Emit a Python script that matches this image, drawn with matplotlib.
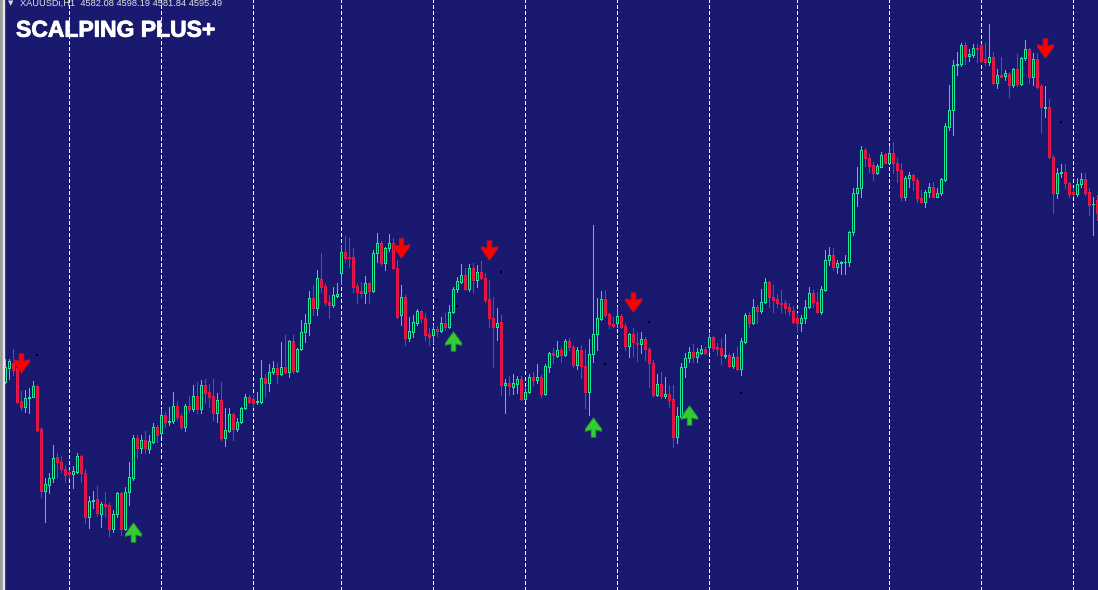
import numpy as np
import matplotlib
matplotlib.use('Agg')
import matplotlib.pyplot as plt
import matplotlib.patheffects as pe
from matplotlib.path import Path

# XAUUSDi H1 bars (open, high, low, close)
opens = [4423, 4437, 4442, 4437, 4404, 4398, 4407, 4408, 4419, 4376,
         4314, 4320, 4327, 4348, 4343, 4336, 4333, 4331, 4333, 4349,
         4332, 4288, 4304, 4306, 4291, 4301, 4300, 4276, 4291, 4312,
         4276, 4313, 4327, 4367, 4357, 4365, 4356, 4363, 4378, 4372,
         4390, 4383, 4384, 4399, 4389, 4378, 4399, 4396, 4409, 4396,
         4420, 4413, 4409, 4392, 4405, 4367, 4374, 4391, 4376, 4383,
         4397, 4408, 4406, 4403, 4403, 4427, 4422, 4433, 4437, 4431,
         4438, 4433, 4464, 4434, 4456, 4473, 4482, 4507, 4497, 4526,
         4519, 4503, 4500, 4509, 4532, 4553, 4548, 4548, 4519, 4514,
         4512, 4522, 4514, 4552, 4562, 4542, 4557, 4562, 4537, 4490,
         4508, 4467, 4473, 4482, 4494, 4487, 4471, 4470, 4476, 4474,
         4482, 4478, 4493, 4516, 4523, 4530, 4516, 4537, 4525, 4533,
         4527, 4506, 4487, 4478, 4483, 4420, 4422, 4418, 4421, 4426,
         4406, 4413, 4428, 4425, 4428, 4411, 4438, 4452, 4449, 4455,
         4450, 4464, 4458, 4440, 4455, 4439, 4413, 4451, 4471, 4486,
         4506, 4491, 4481, 4482, 4489, 4479, 4459, 4471, 4462, 4461,
         4466, 4456, 4442, 4410, 4421, 4409, 4411, 4406, 4368, 4388,
         4438, 4447, 4453, 4448, 4452, 4456, 4458, 4468, 4458, 4457,
         4449, 4450, 4439, 4448, 4436, 4463, 4490, 4482, 4498, 4494,
         4503, 4523, 4508, 4506, 4502, 4502, 4498, 4494, 4487, 4482,
         4487, 4498, 4512, 4503, 4493, 4515, 4545, 4550, 4538, 4542,
         4543, 4543, 4573, 4612, 4617, 4655, 4647, 4640, 4632, 4638,
         4651, 4642, 4652, 4642, 4635, 4608, 4627, 4630, 4625, 4607,
         4603, 4613, 4618, 4608, 4612, 4625, 4678, 4695, 4740, 4741,
         4760, 4749, 4750, 4757, 4760, 4746, 4743, 4748, 4722, 4730,
         4729, 4731, 4720, 4736, 4721, 4747, 4756, 4728, 4746, 4719,
         4697, 4698, 4648, 4612, 4632, 4633, 4622, 4613, 4611, 4621,
         4626, 4613, 4601, 4605]

highs = [4446, 4446, 4456, 4439, 4414, 4415, 4417, 4424, 4420, 4378,
         4327, 4332, 4360, 4352, 4349, 4340, 4335, 4339, 4352, 4350,
         4336, 4309, 4314, 4319, 4303, 4313, 4302, 4295, 4313, 4313,
         4318, 4343, 4370, 4370, 4370, 4374, 4370, 4382, 4380, 4396,
         4393, 4398, 4413, 4404, 4391, 4401, 4409, 4420, 4423, 4425,
         4426, 4421, 4426, 4412, 4423, 4397, 4397, 4392, 4387, 4398,
         4411, 4410, 4410, 4413, 4445, 4431, 4441, 4444, 4442, 4463,
         4470, 4465, 4470, 4457, 4485, 4491, 4514, 4520, 4535, 4552,
         4522, 4510, 4518, 4522, 4560, 4569, 4567, 4557, 4522, 4523,
         4529, 4523, 4555, 4572, 4564, 4558, 4571, 4567, 4545, 4520,
         4510, 4488, 4490, 4496, 4495, 4492, 4477, 4480, 4479, 4488,
         4492, 4500, 4518, 4528, 4541, 4537, 4541, 4542, 4540, 4544,
         4532, 4525, 4508, 4497, 4490, 4426, 4429, 4431, 4429, 4429,
         4417, 4431, 4433, 4441, 4430, 4441, 4453, 4457, 4464, 4458,
         4466, 4467, 4460, 4458, 4460, 4456, 4466, 4580, 4507, 4514,
         4515, 4492, 4488, 4498, 4491, 4482, 4472, 4477, 4473, 4473,
         4468, 4458, 4445, 4431, 4433, 4428, 4420, 4420, 4398, 4442,
         4452, 4458, 4461, 4457, 4460, 4458, 4471, 4469, 4462, 4467,
         4471, 4452, 4452, 4458, 4467, 4492, 4493, 4506, 4500, 4516,
         4527, 4524, 4520, 4511, 4515, 4505, 4502, 4499, 4492, 4490,
         4505, 4518, 4515, 4513, 4519, 4555, 4558, 4557, 4545, 4544,
         4550, 4574, 4617, 4638, 4659, 4657, 4651, 4643, 4641, 4653,
         4652, 4659, 4663, 4647, 4642, 4629, 4633, 4631, 4627, 4615,
         4615, 4622, 4623, 4617, 4627, 4682, 4720, 4745, 4753, 4762,
         4763, 4756, 4761, 4761, 4761, 4762, 4781, 4753, 4736, 4748,
         4735, 4733, 4737, 4751, 4748, 4765, 4757, 4752, 4752, 4721,
         4719, 4706, 4650, 4637, 4641, 4641, 4623, 4617, 4627, 4632,
         4632, 4617, 4608, 4610]

lows = [4422, 4426, 4430, 4402, 4395, 4393, 4392, 4408, 4374, 4308,
        4283, 4312, 4323, 4328, 4333, 4323, 4327, 4317, 4332, 4323,
        4282, 4277, 4297, 4289, 4278, 4288, 4269, 4273, 4288, 4270,
        4275, 4300, 4325, 4347, 4352, 4352, 4352, 4362, 4363, 4369,
        4378, 4380, 4382, 4385, 4376, 4374, 4393, 4394, 4392, 4392,
        4402, 4398, 4385, 4383, 4365, 4359, 4373, 4365, 4374, 4382,
        4396, 4402, 4398, 4401, 4402, 4408, 4414, 4431, 4422, 4430,
        4432, 4428, 4432, 4433, 4455, 4463, 4470, 4490, 4490, 4513,
        4500, 4487, 4498, 4508, 4521, 4543, 4538, 4513, 4502, 4508,
        4502, 4502, 4513, 4543, 4540, 4535, 4554, 4536, 4487, 4480,
        4460, 4464, 4468, 4480, 4483, 4465, 4460, 4462, 4469, 4473,
        4475, 4477, 4492, 4513, 4522, 4515, 4514, 4512, 4518, 4526,
        4503, 4478, 4438, 4465, 4410, 4392, 4410, 4411, 4412, 4405,
        4405, 4412, 4420, 4422, 4408, 4410, 4433, 4442, 4448, 4443,
        4449, 4455, 4438, 4436, 4427, 4397, 4390, 4443, 4455, 4485,
        4488, 4477, 4478, 4478, 4477, 4455, 4448, 4449, 4444, 4452,
        4445, 4418, 4409, 4409, 4407, 4407, 4398, 4358, 4362, 4387,
        4428, 4443, 4443, 4443, 4451, 4451, 4453, 4454, 4450, 4441,
        4447, 4438, 4437, 4435, 4430, 4462, 4478, 4481, 4482, 4492,
        4502, 4498, 4493, 4498, 4493, 4492, 4490, 4482, 4473, 4474,
        4482, 4497, 4498, 4492, 4491, 4514, 4540, 4535, 4532, 4531,
        4531, 4539, 4570, 4599, 4608, 4639, 4633, 4625, 4631, 4638,
        4642, 4642, 4632, 4623, 4605, 4605, 4618, 4615, 4603, 4603,
        4598, 4608, 4608, 4608, 4610, 4624, 4675, 4670, 4730, 4739,
        4741, 4744, 4748, 4743, 4743, 4740, 4740, 4721, 4717, 4728,
        4725, 4708, 4718, 4719, 4720, 4745, 4722, 4720, 4717, 4672,
        4688, 4647, 4592, 4607, 4628, 4617, 4608, 4609, 4609, 4618,
        4610, 4590, 4570, 4585]

closes = [4438, 4444, 4435, 4403, 4398, 4407, 4408, 4419, 4375, 4314,
          4321, 4327, 4347, 4343, 4336, 4330, 4331, 4334, 4349, 4332,
          4288, 4304, 4305, 4292, 4301, 4299, 4276, 4291, 4312, 4276,
          4313, 4328, 4367, 4357, 4365, 4357, 4364, 4378, 4370, 4390,
          4383, 4384, 4399, 4388, 4378, 4399, 4396, 4409, 4396, 4420,
          4412, 4408, 4392, 4405, 4367, 4375, 4391, 4376, 4383, 4397,
          4408, 4403, 4402, 4404, 4427, 4422, 4433, 4437, 4431, 4438,
          4433, 4464, 4434, 4456, 4473, 4482, 4507, 4497, 4527, 4518,
          4503, 4500, 4510, 4511, 4553, 4547, 4547, 4518, 4513, 4512,
          4522, 4514, 4552, 4562, 4542, 4557, 4562, 4537, 4488, 4508,
          4467, 4474, 4483, 4494, 4487, 4470, 4468, 4476, 4474, 4482,
          4478, 4493, 4516, 4524, 4530, 4516, 4537, 4525, 4533, 4527,
          4505, 4487, 4478, 4482, 4420, 4422, 4419, 4422, 4426, 4406,
          4413, 4428, 4425, 4428, 4411, 4439, 4452, 4450, 4455, 4450,
          4464, 4458, 4440, 4455, 4439, 4413, 4451, 4471, 4487, 4506,
          4490, 4481, 4479, 4489, 4478, 4459, 4471, 4463, 4461, 4466,
          4456, 4442, 4410, 4421, 4409, 4411, 4405, 4368, 4389, 4438,
          4447, 4453, 4448, 4453, 4456, 4452, 4468, 4457, 4456, 4450,
          4450, 4439, 4448, 4436, 4464, 4490, 4482, 4498, 4494, 4503,
          4523, 4508, 4505, 4502, 4501, 4497, 4494, 4483, 4482, 4487,
          4498, 4512, 4503, 4493, 4516, 4545, 4550, 4538, 4542, 4543,
          4543, 4573, 4612, 4617, 4655, 4647, 4639, 4632, 4639, 4650,
          4642, 4652, 4642, 4635, 4608, 4627, 4630, 4625, 4607, 4603,
          4613, 4618, 4608, 4612, 4626, 4679, 4695, 4740, 4741, 4760,
          4749, 4751, 4757, 4756, 4744, 4743, 4748, 4722, 4730, 4728,
          4732, 4720, 4736, 4721, 4747, 4756, 4728, 4746, 4718, 4698,
          4698, 4648, 4612, 4632, 4633, 4622, 4611, 4611, 4621, 4626,
          4612, 4600, 4601, 4592]

# bar index of each day separator
day_starts = [16, 39, 62, 84, 107, 130, 153, 176, 198, 221, 244, 267]

# indicator signals
sell_bars = [4, 99, 121, 157, 260]
sell_prices = [4442, 4557, 4555, 4503, 4757]
buy_bars = [32, 112, 147, 171]
buy_prices = [4273, 4464, 4378, 4390]
dot_bars = [8, 39, 108, 113, 124, 150, 161, 184, 264]
dot_prices = [4450, 4343, 4505, 4499, 4533, 4441, 4483, 4412, 4683]

title = 'SCALPING PLUS+'
header = 'XAUUSDi,H1  4582.08 4598.19 4581.84 4595.49'

bg = '#191970'
bull_col = '#1ee89c'
bear_fill = '#ff0a0a'
bear_edge = '#e8174a'
px = 0.72  # one pixel in points at 100 dpi

o = np.array(opens, dtype=float)
h = np.array(highs, dtype=float)
l = np.array(lows, dtype=float)
c = np.array(closes, dtype=float)
x = np.arange(len(o))
up = c >= o

fig = plt.figure(figsize=(10.98, 5.90), dpi=100, facecolor=bg)
ax = fig.add_axes([0, 0, 1, 1])
ax.set_facecolor(bg)
ax.set_xlim(-1.325, 273.175)
ax.set_ylim(4215, 4805)
ax.set_xticks([])
ax.set_yticks([])
for s in ax.spines.values():
    s.set_visible(False)

# day separators
ax.vlines(day_starts, 4215, 4805, colors='white', linestyles=(0, (3.5, 2.5)),
          linewidth=px, antialiased=False, zorder=1)

# wicks
wick_cols = np.where(up, bull_col, bear_edge)
ax.vlines(x, l, h, colors=wick_cols, linewidth=px, antialiased=False, zorder=2)

# bodies
bottom = np.minimum(o, c)
height = np.abs(c - o)
ax.bar(x[up], height[up], bottom=bottom[up], width=0.5, color=bg,
       edgecolor=bull_col, linewidth=px, antialiased=False, zorder=3)
ax.bar(x[~up], height[~up], bottom=bottom[~up], width=0.5, color=bear_fill,
       edgecolor=bear_edge, linewidth=px, antialiased=False, zorder=3)

# arrows
down_verts = [(-0.12, 0.5), (0.12, 0.5), (0.12, 0.12), (0.42, 0.2), (0.42, 0.08),
              (0.0, -0.5), (-0.42, 0.08), (-0.42, 0.2), (-0.12, 0.12), (-0.12, 0.5)]
down_arrow = Path(down_verts, closed=True)
up_arrow = Path([(vx, -vy) for vx, vy in down_verts], closed=True)

ax.plot(sell_bars, sell_prices, ls='none', marker=down_arrow, ms=14,
        mfc='#ff0000', mec='#b8102a', mew=0.6, zorder=5)
ax.plot(buy_bars, buy_prices, ls='none', marker=up_arrow, ms=14,
        mfc='#33cc33', mec='#229922', mew=0.6, zorder=5)

ax.plot(dot_bars, dot_prices, ls='none', marker='s', ms=1.5, color='black',
        mew=0, zorder=4)

# window border on the left
ax.axvspan(-1.325, -0.6, color='#9c9c9c', zorder=6)
ax.axvspan(-0.5, -0.27, color='#e6e6e6', zorder=6)

fig.text(16 / 1098, 1 - 36.7 / 590, title, color='white', fontsize=16.5,
         fontweight='bold', family='Liberation Sans', ha='left', va='baseline',
         path_effects=[pe.withStroke(linewidth=0.6, foreground='white')])
fig.text(8 / 1098, 1 - 5.5 / 590, '\u25bc', color='#e0e0e0', fontsize=5,
         family='DejaVu Sans', ha='left', va='baseline')
fig.text(20.5 / 1098, 1 - 6 / 590, header, color='#e0e0e0', fontsize=6.7,
         family='Liberation Sans', ha='left', va='baseline')

fig.savefig('out.png', dpi=100, facecolor=bg)
